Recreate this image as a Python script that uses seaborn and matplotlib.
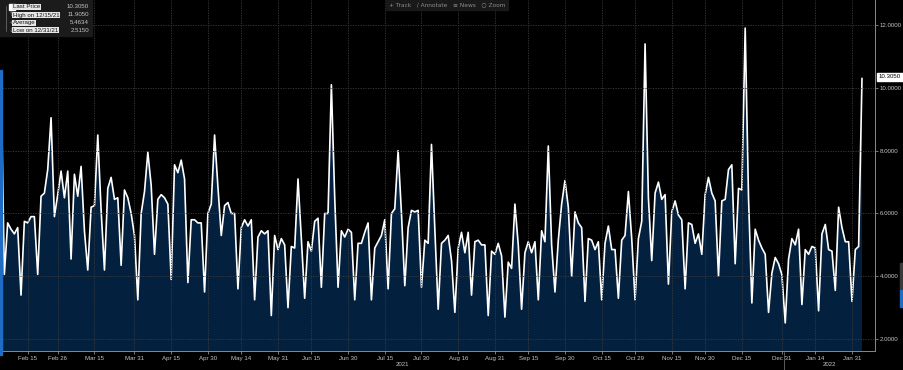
import numpy as np
import pandas as pd
import seaborn as sns
import matplotlib.pyplot as plt

# daily values, split by stretch of the year
feb_apr = [10.4, 4.06, 5.7, 5.5, 5.35, 5.55, 3.4, 5.75, 5.7, 5.9, 5.9, 4.06, 6.55, 6.65, 7.4,
           9.05, 5.9, 6.6, 7.35, 6.5, 7.35, 4.55, 7.25, 6.55, 7.5, 5.45, 4.2, 6.2, 6.25, 8.5,
           6.1, 4.2, 6.8, 7.15, 6.45, 6.5, 4.35, 6.75, 6.5, 6.0, 5.3, 3.25, 6.0, 6.7, 7.95]
apr_jun = [6.9, 4.7, 6.45, 6.6, 6.5, 6.3, 3.9, 7.55, 7.3, 7.7, 7.1, 3.8, 5.8, 5.8, 5.7,
           5.7, 3.5, 6.0, 6.3, 8.5, 6.85, 5.3, 6.25, 6.35, 6.0, 6.0, 3.6, 5.55, 5.8, 5.6,
           5.8, 3.25, 5.25, 5.45, 5.35, 5.45, 2.75, 5.3, 4.85, 5.2, 5.0, 3.0, 4.95, 4.9]
jun_aug = [7.1, 5.2, 3.3, 5.1, 4.8, 5.75, 5.85, 3.65, 6.0, 6.0, 10.1, 6.5, 3.65, 5.45, 5.25,
           5.5, 5.4, 3.25, 5.05, 5.05, 5.4, 5.7, 3.25, 4.9, 5.1, 5.3, 5.8, 3.6, 6.0, 6.15,
           8.0, 6.0, 3.7, 5.55, 6.1, 6.05, 6.1, 3.65, 5.15, 5.05, 8.2, 5.5, 2.95]
aug_oct = [5.05, 5.15, 5.3, 4.5, 2.85, 4.9, 5.4, 4.75, 5.4, 3.4, 5.1, 5.15, 5.0, 5.0, 2.75,
           4.8, 4.7, 5.05, 4.65, 2.7, 4.45, 4.25, 6.3, 5.0, 2.95, 4.75, 5.1, 4.75, 5.1, 3.25,
           5.45, 5.1, 8.15, 5.0, 3.5, 5.15, 6.3, 7.05, 6.2, 4.0, 6.05, 5.7, 5.55]
oct_nov = [3.2, 5.2, 5.15, 4.85, 5.1, 3.25, 5.05, 5.6, 4.85, 4.85, 3.3, 5.15, 5.3, 6.7, 5.2,
           3.25, 5.2, 5.75, 11.4, 6.5, 4.5, 6.65, 7.0, 6.45, 6.6, 3.75, 6.05, 6.4, 5.95, 5.8,
           3.6, 5.7, 5.65, 5.05, 5.35, 4.7, 6.6, 7.15, 6.65, 6.4, 4.0, 6.4, 6.45, 7.4]
dec_feb = [7.55, 4.4, 6.8, 6.75, 11.905, 6.5, 3.15, 5.5, 5.15, 4.9, 4.7, 2.85, 4.1, 4.6, 4.4,
           4.05, 2.515, 4.55, 5.2, 5.0, 5.5, 3.1, 4.85, 4.7, 4.95, 4.9, 2.9, 5.35, 5.65, 4.85,
           4.8, 3.55, 6.2, 5.55, 5.1, 5.1, 3.2, 4.85, 4.95, 10.305]

values = np.array(feb_apr + apr_jun + jun_aug + aug_oct + oct_nov + dec_feb)
holidays = ['2021-05-31', '2021-09-06', '2021-11-25']
dates = pd.bdate_range('2021-02-03', periods=len(values), freq='C', holidays=holidays)

tick_dates = ['2021-02-15', '2021-02-26', '2021-03-15', '2021-03-31', '2021-04-15', '2021-04-30',
              '2021-05-14', '2021-05-31', '2021-06-15', '2021-06-30', '2021-07-15', '2021-07-30',
              '2021-08-16', '2021-08-31', '2021-09-15', '2021-09-30', '2021-10-15', '2021-10-29',
              '2021-11-15', '2021-11-30', '2021-12-15', '2021-12-31', '2022-01-14', '2022-01-31']
tick_labels = ['Feb 15', 'Feb 26', 'Mar 15', 'Mar 31', 'Apr 15', 'Apr 30', 'May 14', 'May 31',
               'Jun 15', 'Jun 30', 'Jul 15', 'Jul 30', 'Aug 16', 'Aug 31', 'Sep 15', 'Sep 30',
               'Oct 15', 'Oct 29', 'Nov 15', 'Nov 30', 'Dec 15', 'Dec 31', 'Jan 14', 'Jan 31']
y_ticks = [2, 4, 6, 8, 10, 12]

legend_names = ['Last Price', 'High on 12/15/21', 'Average', 'Low on 12/31/21']
legend_values = ['10.3050', '11.9050', '5.4634', '2.5150']

W, H = 904, 370
TXT = '#c4c4c4'
GRID = '#3c3c3c'
FS = 4.4


def px(x, y):
    return x / W, 1 - y / H


sns.set_theme(style='dark')
plt.rcParams['font.family'] = ['Liberation Sans Narrow', 'Liberation Sans', 'DejaVu Sans']

fig = plt.figure(figsize=(W / 100, H / 100), dpi=100, facecolor='black')
ax = fig.add_axes([0, 19 / H, 875 / W, 351 / H], facecolor='black')

idx = np.arange(len(values))
ax.fill_between(idx, values, 0, color='#03203f', lw=0)
sns.lineplot(x=idx, y=values, ax=ax, color='white', lw=1.2)

ax.set_xlim(-0.3, 261.9)
ax.set_ylim(1.62, 12.8)

tick_pos = dates.searchsorted(pd.to_datetime(tick_dates))
ax.set_xticks(tick_pos)
ax.set_xticklabels(tick_labels)
ax.set_yticks(y_ticks)
ax.set_yticklabels([f'{v:.4f}' for v in y_ticks])
ax.yaxis.tick_right()
ax.tick_params(axis='both', colors='#8a8a8a', labelcolor=TXT, labelsize=FS,
               length=2.5, width=0.6, pad=1.0)
ax.tick_params(axis='y', left=False, right=True)
ax.tick_params(axis='x', bottom=True, pad=0.8)
ax.grid(True, color=GRID, ls=(0, (1.5, 1.5)), lw=0.6)
ax.set_axisbelow(False)
for g in ax.get_xgridlines() + ax.get_ygridlines():
    g.set_zorder(0.5)
for name, sp in ax.spines.items():
    sp.set_visible(name in ('right', 'bottom'))
    sp.set_color('#8a8a8a')
    sp.set_linewidth(0.7)
ax.set_xlabel('')
ax.set_ylabel('')

# year labels and year separator
fig.text(*px(402, 364), '2021', color=TXT, fontsize=FS, ha='center', va='center')
fig.text(*px(829, 364), '2022', color=TXT, fontsize=FS, ha='center', va='center')
fig.add_artist(plt.Line2D([784 / W, 784 / W], [0, 1 - 352 / H], color='#6a6a6a', lw=0.6))

# last price tag
fig.text(*px(879, 77), '10.3050', color='black', fontsize=FS, ha='left', va='center',
         bbox=dict(boxstyle='square,pad=0.3', fc='white', ec='white'))

# legend box
fig.add_artist(plt.Rectangle(px(0, 36), 92 / W, 36 / H, color='#1b1b1b', zorder=5))
rows_y = [7, 15, 22.7, 30.3]
marks = ['', '↑', '+', '↓']
for ry, name, val, mk in zip(rows_y, legend_names, legend_values, marks):
    fig.text(*px(13, ry), name, color='#111111', fontsize=FS, ha='left', va='center',
             zorder=6, bbox=dict(boxstyle='square,pad=0.1', fc='#e6e6e6', ec='none'))
    fig.text(*px(89, ry), val, color=TXT, fontsize=FS, ha='right', va='center', zorder=6)
    if mk:
        fig.text(*px(11, ry), mk, color='#8a8a8a', fontsize=4.2, ha='center', va='center',
                 zorder=6, family='DejaVu Sans')
fig.add_artist(plt.Rectangle(px(9, 10), 6 / W, 6 / H, color='white', zorder=6))
fig.add_artist(plt.Line2D([6 / W, 6 / W], [1 - 6 / H, 1 - 31 / H], color='#777777', lw=0.5, zorder=6))

# toolbar at top
fig.add_artist(plt.Rectangle(px(386, 10), 122 / W, 10 / H, color='#191919', zorder=5))
fig.text(*px(447, 5), '+ Track   ∕ Annotate   ≡ News   ○ Zoom', color='#8c8c8c',
         fontsize=4.2, ha='center', va='center', zorder=6, family=['DejaVu Sans'])

# window edges
fig.add_artist(plt.Rectangle(px(0, 355), 2 / W, 285 / H, color='#1f6cc4', zorder=6))
fig.add_artist(plt.Rectangle(px(900, 290), 4 / W, 27 / H, color='#3a3a3a', zorder=6))
fig.add_artist(plt.Rectangle(px(900, 307), 4 / W, 17 / H, color='#1f6cc4', zorder=6))

fig.savefig('out.png', dpi=100, facecolor='black')
